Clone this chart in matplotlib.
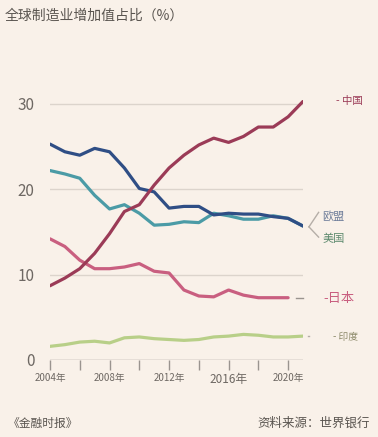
import matplotlib
matplotlib.use("Agg")
import matplotlib.pyplot as plt

plt.rcParams['font.family'] = ['Noto Sans CJK SC', 'DejaVu Sans']

years = list(range(2004, 2022))
china = [8.7, 9.6, 10.7, 12.5, 14.8, 17.4, 18.2, 20.5, 22.5, 24.0, 25.2, 26.0, 25.5, 26.2, 27.3, 27.3, 28.5, 30.3]
eu = [25.3, 24.4, 24.0, 24.8, 24.4, 22.5, 20.1, 19.7, 17.8, 18.0, 18.0, 17.0, 17.2, 17.1, 17.1, 16.8, 16.6, 15.7]
us = [22.2, 21.8, 21.3, 19.3, 17.7, 18.2, 17.2, 15.8, 15.9, 16.2, 16.1, 17.2, 16.9, 16.5, 16.5, 16.9, 16.6, 15.7]
japan_years = list(range(2004, 2021))
japan = [14.2, 13.3, 11.7, 10.7, 10.7, 10.9, 11.3, 10.4, 10.2, 8.2, 7.5, 7.4, 8.2, 7.6, 7.3, 7.3, 7.3]
india = [1.6, 1.8, 2.1, 2.2, 2.0, 2.6, 2.7, 2.5, 2.4, 2.3, 2.4, 2.7, 2.8, 3.0, 2.9, 2.7, 2.7, 2.8]

xticks = list(range(2004, 2021, 2))
xlabels = ['2004年', '', '2008年', '', '2012年', '', '2016年', '', '2020年']
yticks = [0, 10, 20, 30]

bg = '#f9f1e9'
c_china = '#9b3b57'
c_eu = '#2f4e85'
c_us = '#4b9ba6'
c_japan = '#c95f80'
c_india = '#b8cf88'
grey = '#6e6863'

W, H = 378, 437
fig = plt.figure(figsize=(W / 100, H / 100), dpi=100, facecolor=bg)
ax = fig.add_axes([50 / W, 1 - 360 / H, (303 - 50) / W, (360 - 104) / H * 30.5 / 30])
ax.set_facecolor(bg)
ax.set_xlim(2004, 2021)
ax.set_ylim(0, 30.5)

for y in [10, 20, 30]:
    ax.axhline(y, color='#dcd4cc', lw=1.0, zorder=1)
ax.axhline(0, color='#9a948f', lw=1.0, zorder=1)

lw = 2.3
kw = dict(lw=lw, solid_joinstyle='round', solid_capstyle='round', zorder=3)
ax.plot(years, india, color=c_india, **kw)
ax.plot(japan_years, japan, color=c_japan, **kw)
ax.plot(years, us, color=c_us, **kw)
ax.plot(years, eu, color=c_eu, **kw)
ax.plot(years, china, color=c_china, **kw)

for s in ax.spines.values():
    s.set_visible(False)
ax.set_xticks(xticks)
ax.set_xticklabels(xlabels)
for lab in ax.get_xticklabels():
    lab.set_fontsize(8.5 if lab.get_text() == '2016年' else 7)
ax.tick_params(axis='x', length=7, width=1, color='#9a948f', labelcolor=grey, pad=2)
ax.set_yticks(yticks)
ax.set_yticklabels([str(v) for v in yticks])
ax.tick_params(axis='y', length=0, labelsize=11, labelcolor=grey, pad=11)

# right side labels
ax.text(2023.2, 30.3, '- 中国', color=c_china, fontsize=7.5, va='center', ha='left')
ax.plot([2021.4, 2022.05], [15.6, 17.3], color='#b5aea7', lw=1, clip_on=False)
ax.plot([2021.4, 2022.05], [15.6, 14.4], color='#b5aea7', lw=1, clip_on=False)
ax.text(2022.3, 16.9, '欧盟', color='#6d7c99', fontsize=8, va='center', ha='left')
ax.text(2022.3, 14.2, '美国', color='#5d8a6e', fontsize=8, va='center', ha='left')
ax.plot([2020.5, 2021.0], [7.3, 7.3], color='#9a948f', lw=1, clip_on=False)
ax.text(2022.4, 7.2, '-日本', color=c_japan, fontsize=9.5, va='center', ha='left')
ax.plot([2021.35, 2021.42], [2.8, 2.8], color='#b5aea7', lw=1, clip_on=False)
ax.text(2023.0, 2.7, '- 印度', color='#8d8a6a', fontsize=7, va='center', ha='left')

fig.text(5 / W, 1 - 16 / H, '全球制造业增加值占比（%）', fontsize=10, color='#5a5550', va='center', ha='left')
fig.text(8 / W, 1 - 423 / H, '《金融时报》', fontsize=8.5, color='#5a5550', va='center', ha='left')
fig.text(370 / W, 1 - 423 / H, '资料来源：世界银行', fontsize=9, color='#5a5550', va='center', ha='right')

fig.savefig('out.png', dpi=100, facecolor=bg)
